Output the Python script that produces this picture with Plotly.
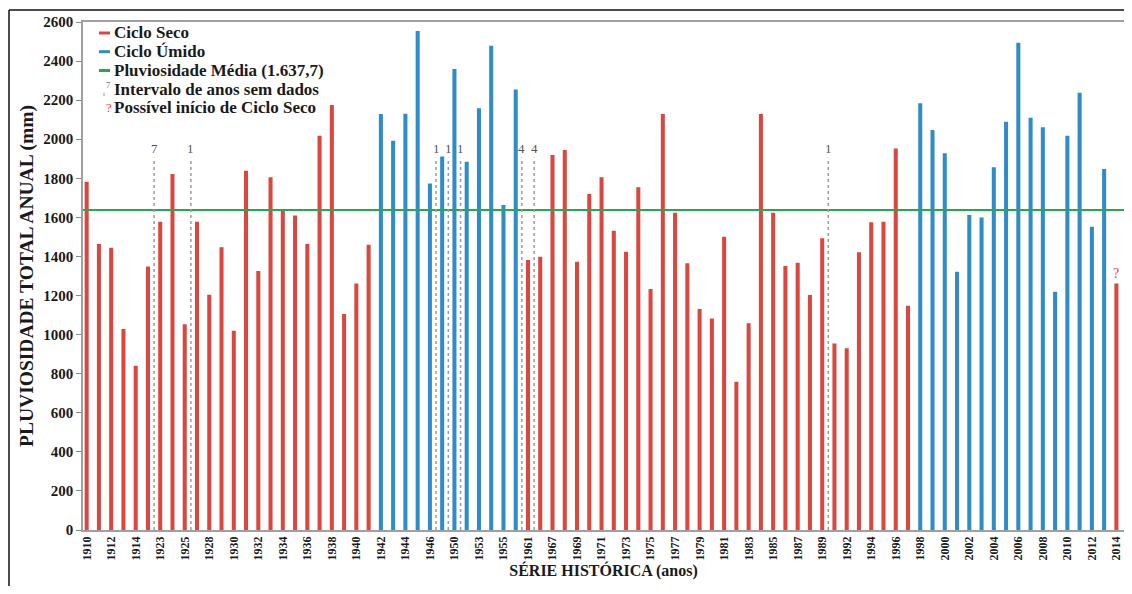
import plotly.graph_objects as go

# ---------------- data ----------------
years = [1910, 1911, 1912, 1913, 1914, 1915,
         1923, 1924, 1925,
         1927, 1928, 1929, 1930, 1931, 1932, 1933, 1934, 1935, 1936, 1937, 1938, 1939, 1940, 1941,
         1942, 1943, 1944, 1945, 1946,
         1948, 1950,
         1952, 1953, 1954, 1955, 1956,
         1961,
         1966, 1967, 1968, 1969, 1970, 1971, 1972, 1973, 1974, 1975, 1976, 1977, 1978, 1979,
         1980, 1981, 1982, 1983, 1984, 1985, 1986, 1987, 1988, 1989,
         1991, 1992, 1993, 1994, 1995, 1996, 1997, 1998, 1999, 2000, 2001, 2002, 2003, 2004,
         2005, 2006, 2007, 2008, 2009, 2010, 2011, 2012, 2013, 2014]

rain = [1783, 1464, 1445, 1029, 841, 1349,
        1578, 1822, 1053,
        1578, 1204, 1447, 1020, 1839, 1325, 1805, 1643, 1610, 1464, 2018, 2175, 1105, 1261, 1460,
        2129, 1992, 2130, 2554, 1774,
        1911, 2359,
        1885, 2158, 2479, 1663, 2255,
        1382,
        1399, 1919, 1945, 1373, 1720, 1805, 1532, 1424, 1754, 1233, 2129, 1624, 1365, 1131,
        1083, 1501, 759, 1058, 2129, 1624, 1351, 1368, 1203, 1493,
        955, 930, 1421, 1575, 1578, 1953, 1148, 2184, 2047, 1928, 1322, 1612, 1600, 1856,
        2090, 2494, 2110, 2061, 1220, 2018, 2238, 1552, 1847, 1262]

# S = Ciclo Seco, U = Ciclo Úmido
cycle = (["S"] * 24 + ["U"] * 12 + ["S"] * 32 + ["U"] * 16 + ["S"])

# (last year before the gap, number of missing years)
gaps = [(1915, 7), (1925, 1), (1946, 1), (1948, 1), (1950, 1), (1956, 4), (1961, 4), (1989, 1)]

mean_rain = 1637.7
dry_start_year = 2014
y_ticks = list(range(0, 2601, 200))

legend_labels = ["Ciclo Seco", "Ciclo Úmido", "Pluviosidade Média (1.637,7)",
                 "Intervalo de anos sem dados", "Possível início de Ciclo Seco"]

# ---------------- style ----------------
RED = "#d9473f"
BLUE = "#2f8cc6"
GREEN = "#25a84f"
GRAY = "#9a9a9a"
FONT = "Liberation Serif"

OFF = 8                      # page body margin added by the browser
W, H = 1132 - 2 * OFF, 594 - 2 * OFF
ML, MR, MT = 83 - OFF, 0, 22 - OFF
MB = H - (530 - OFF)
PW, PH = W - ML - MR, H - MT - MB


def px_x(x):                 # screen pixel -> paper fraction
    return (x - OFF - ML) / PW


def px_y(y):
    return (530 - y) / PH


cats = [str(y) for y in years]
idx = {y: i for i, y in enumerate(years)}

fig = go.Figure()
for name, code, color in [("Ciclo Seco", "S", RED), ("Ciclo Úmido", "U", BLUE)]:
    xs = [c for c, k in zip(cats, cycle) if k == code]
    ys = [v for v, k in zip(rain, cycle) if k == code]
    fig.add_bar(x=xs, y=ys, name=name, marker_color=color, marker_line_width=0,
                width=0.33, showlegend=False)

shapes = []
annotations = []

# mean line
shapes.append(dict(type="line", xref="paper", yref="y", x0=0, x1=1, y0=mean_rain, y1=mean_rain,
                   line=dict(color=GREEN, width=2)))

# gap markers
for after, n in gaps:
    pos = idx[after] + 0.5
    shapes.append(dict(type="line", xref="x", yref="y", x0=pos, x1=pos, y0=0, y1=1905,
                       line=dict(color=GRAY, width=1.5, dash="dot")))
    annotations.append(dict(x=pos, y=1905, xref="x", yref="y", text=str(n), showarrow=False,
                            yanchor="bottom", font=dict(family=FONT, size=13, color="#555555")))

# possible start of dry cycle
annotations.append(dict(x=idx[dry_start_year], y=rain[idx[dry_start_year]], xref="x", yref="y",
                        text="?", showarrow=False, yanchor="bottom",
                        font=dict(family=FONT, size=14, color=RED)))

# legend (custom)
leg_y = [33, 51.7, 70.5, 89, 107.5]
mark_colors = [RED, BLUE, GREEN]
for i, (lab, yy) in enumerate(zip(legend_labels, leg_y)):
    annotations.append(dict(x=px_x(112), y=px_y(yy), xref="paper", yref="paper", text="<b>%s</b>" % lab,
                            showarrow=False, xanchor="left", yanchor="middle",
                            font=dict(family=FONT, size=17, color="#1a1a1a")))
    if i < 3:
        shapes.append(dict(type="line", xref="paper", yref="paper", x0=px_x(99), x1=px_x(110),
                           y0=px_y(yy), y1=px_y(yy), line=dict(color=mark_colors[i], width=3)))
shapes.append(dict(type="line", xref="paper", yref="paper", x0=px_x(104), x1=px_x(104),
                   y0=px_y(leg_y[3] + 7), y1=px_y(leg_y[3] + 1), line=dict(color=GRAY, width=1, dash="dot")))
annotations.append(dict(x=px_x(104), y=px_y(leg_y[3] - 4), xref="paper", yref="paper", text="7",
                        showarrow=False, yanchor="middle", font=dict(family=FONT, size=9, color="#777777")))
annotations.append(dict(x=px_x(104), y=px_y(leg_y[4]), xref="paper", yref="paper", text="?",
                        showarrow=False, yanchor="middle", font=dict(family=FONT, size=13, color=RED)))

# outer frame of the picture
shapes.append(dict(type="line", xref="paper", yref="paper", x0=px_x(9), x1=px_x(9),
                   y0=px_y(600), y1=px_y(10), line=dict(color="#111111", width=1.5)))
shapes.append(dict(type="line", xref="paper", yref="paper", x0=px_x(9), x1=px_x(1140),
                   y0=px_y(10), y1=px_y(10), line=dict(color="#111111", width=1.5)))

fig.update_layout(
    width=W, height=H,
    margin=dict(l=ML, r=MR, t=MT, b=MB, autoexpand=False),
    paper_bgcolor="white", plot_bgcolor="white",
    barmode="overlay",
    showlegend=False,
    shapes=shapes,
    annotations=annotations,
    font=dict(family=FONT, color="#1a1a1a"),
)
fig.update_xaxes(
    type="category", categoryorder="array", categoryarray=cats,
    tickvals=cats[::2], ticktext=[f"<b>{c}</b>" for c in cats[::2]],
    tickangle=-90, tickfont=dict(family=FONT, size=12, color="#1a1a1a"),
    range=[-0.3, 84.62], automargin=False,
    showline=True, linecolor="#a0a0a0", linewidth=1.5, mirror=True,
    showgrid=False, ticks="",
    title=dict(text="<b>SÉRIE HISTÓRICA (anos)</b>", font=dict(family=FONT, size=16, color="#1a1a1a"),
               standoff=3),
)
fig.update_yaxes(
    range=[0, 2600], tickvals=y_ticks, ticktext=[f"<b>{t}</b>" for t in y_ticks],
    tickfont=dict(family=FONT, size=15, color="#1a1a1a"),
    ticks="outside", ticklen=5, tickcolor="#888888", automargin=False,
    showline=True, linecolor="#a0a0a0", linewidth=1.5,
    showgrid=False, zeroline=False,
    title=dict(text="<b>PLUVIOSIDADE TOTAL ANUAL (mm)</b>", font=dict(family=FONT, size=19.5, color="#1a1a1a"),
               standoff=4),
)

fig.write_html("out.html")
